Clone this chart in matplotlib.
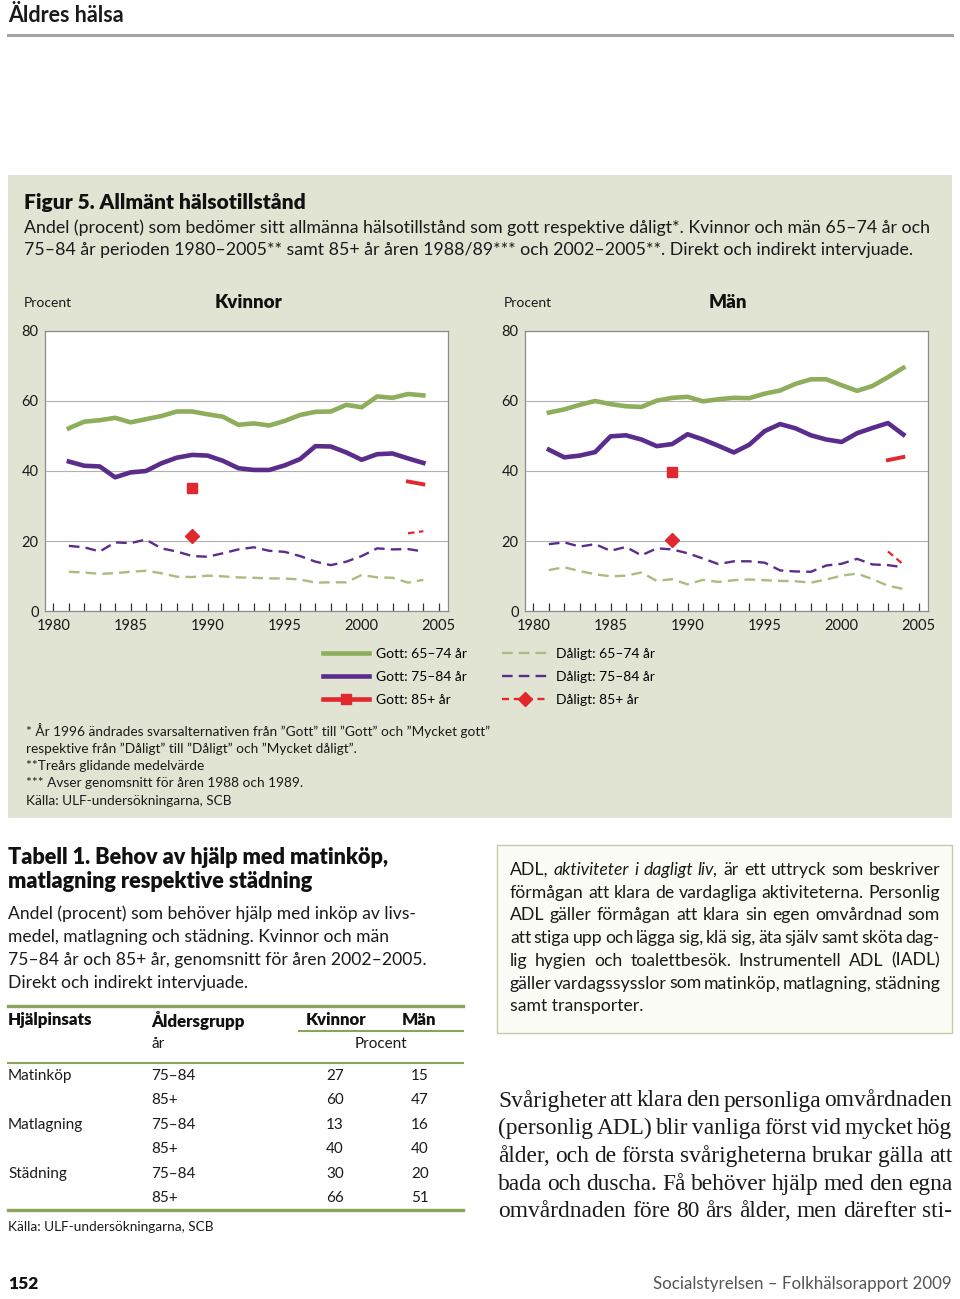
import matplotlib
matplotlib.use('Agg')
import matplotlib.pyplot as plt
from matplotlib.lines import Line2D
from matplotlib.patches import Rectangle

W, H = 960, 1299
SANS = ['Lato', 'DejaVu Sans']
SERIF = ['Liberation Serif', 'DejaVu Serif']
plt.rcParams['font.family'] = SANS

GREEN = '#8fae5c'
GREEN_L = '#a9bd7c'
PURPLE = '#5a2d8c'
RED = '#e0282e'
BOX = '#e1e4d3'
TABLE_GREEN = '#8ba35a'

# chart data (3-year moving averages)
years = list(range(1981, 2005))
years_85 = [2003, 2004]
year_8889 = 1989

kv_gott_6574 = [52.2, 54.1, 54.5, 55.2, 53.9, 54.8, 55.7, 57.0, 57.0, 56.2, 55.5, 53.2,
                53.6, 53.0, 54.3, 56.0, 56.9, 57.0, 58.9, 58.2, 61.3, 60.9, 62.0, 61.6]
kv_gott_7584 = [42.7, 41.5, 41.3, 38.2, 39.6, 40.0, 42.2, 43.8, 44.6, 44.4, 42.9, 40.8,
                40.3, 40.3, 41.6, 43.4, 47.1, 47.0, 45.3, 43.2, 44.8, 45.0, 43.6, 42.3]
kv_dal_6574 = [11.2, 11.0, 10.6, 10.8, 11.2, 11.5, 10.8, 9.8, 9.7, 10.1, 9.9, 9.6,
               9.5, 9.3, 9.3, 9.0, 8.1, 8.2, 8.2, 10.3, 9.6, 9.5, 8.1, 8.9]
kv_dal_7584 = [18.6, 18.2, 17.0, 19.6, 19.4, 20.4, 17.9, 17.0, 15.7, 15.5, 16.5, 17.6,
               18.2, 17.2, 16.9, 15.7, 14.1, 13.1, 14.1, 15.7, 17.9, 17.6, 17.7, 17.0]
kv_gott_85_8889 = 35.1
kv_gott_85 = [37.0, 36.2]
kv_dal_85_8889 = 21.3
kv_dal_85 = [22.2, 22.8]

man_gott_6574 = [56.7, 57.6, 58.9, 60.0, 59.1, 58.5, 58.3, 60.1, 60.9, 61.2, 59.9, 60.5,
                 60.9, 60.8, 62.1, 63.0, 64.9, 66.2, 66.2, 64.5, 62.9, 64.3, 66.8, 69.5]
man_gott_7584 = [46.1, 43.9, 44.4, 45.4, 49.9, 50.2, 49.0, 47.1, 47.7, 50.5, 49.0, 47.2,
                 45.3, 47.5, 51.4, 53.4, 52.2, 50.2, 49.0, 48.3, 50.8, 52.3, 53.7, 50.4]
man_dal_6574 = [11.7, 12.5, 11.4, 10.5, 9.9, 10.1, 11.0, 8.6, 9.1, 7.6, 8.9, 8.3,
                8.8, 9.0, 8.8, 8.6, 8.5, 8.1, 9.0, 10.1, 10.7, 9.1, 7.2, 6.3]
man_dal_7584 = [19.1, 19.6, 18.4, 19.1, 17.2, 18.3, 15.9, 17.9, 17.6, 16.5, 15.0, 13.4,
                14.2, 14.2, 13.8, 11.6, 11.3, 11.2, 13.0, 13.5, 14.9, 13.3, 13.1, 12.5]
man_gott_85_8889 = 39.7
man_gott_85 = [43.1, 44.0]
man_dal_85_8889 = 20.3
man_dal_85 = [17.0, 13.3]

legend_labels = ['Gott: 65–74 år', 'Gott: 75–84 år', 'Gott: 85+ år',
                 'Dåligt: 65–74 år', 'Dåligt: 75–84 år', 'Dåligt: 85+ år']

# table data
tab_help = ['Matinköp', '', 'Matlagning', '', 'Städning', '']
tab_age = ['75–84', '85+', '75–84', '85+', '75–84', '85+']
tab_kvinnor = [27, 60, 13, 40, 30, 66]
tab_man = [15, 47, 16, 40, 20, 51]


def fx(x):
    return x / W


def fy(y):
    return 1 - y / H


fig = plt.figure(figsize=(W / 100, H / 100), dpi=100)
fig.patch.set_facecolor('white')


def txt(x, y, s, size, **kw):
    kw.setdefault('va', 'center')
    return fig.text(fx(x), fy(y), s, fontsize=size, **kw)


def hline(x0, x1, y, color, lw):
    fig.add_artist(Line2D([fx(x0), fx(x1)], [fy(y), fy(y)], color=color, lw=lw,
                          transform=fig.transFigure))


renderer = fig.canvas.get_renderer()


def justify(words, x0, x1, y, size, family, color='#1a1a1a'):
    objs = []
    for w in words:
        style = 'normal'
        if w.startswith('_'):
            w = w[1:]
            style = 'italic'
        objs.append(fig.text(0, fy(y), w, fontsize=size, family=family, style=style,
                             va='center', color=color))
    widths = [t.get_window_extent(renderer).width for t in objs]
    gap = (x1 - x0 - sum(widths)) / (len(objs) - 1)
    x = x0
    for t, w in zip(objs, widths):
        t.set_x(fx(x))
        x += w + gap


# header
txt(8, 15, 'Äldres hälsa', 15.5, weight='bold', color='#1a1a1a')
hline(8, 952, 35, '#a3a3a3', 2.2)

# figure box
fig.add_artist(Rectangle((fx(8), fy(818)), fx(944), 643 / H, transform=fig.transFigure,
                         facecolor=BOX, edgecolor='none', zorder=0))
txt(24, 202, 'Figur 5. Allmänt hälsotillstånd', 15, weight='heavy', color='#111111')
txt(24, 228, 'Andel (procent) som bedömer sitt allmänna hälsotillstånd som gott respektive '
    'dåligt*. Kvinnor och män 65–74 år och', 12.8, color='#1a1a1a')
txt(24, 250, '75–84 år perioden 1980–2005** samt 85+ år åren 1988/89*** och 2002–2005**. '
    'Direkt och indirekt intervjuade.', 12.8, color='#1a1a1a')


def panel(left, title, title_x, g6574, g7584, g85pt, g85, d6574, d7584, d85pt, d85):
    ax = fig.add_axes([fx(left), fy(611), 403 / W, 280 / H])
    ax.set_facecolor('white')
    ax.plot(years, d6574, color=GREEN_L, lw=1.7, dashes=(4.5, 2.6))
    ax.plot(years, d7584, color=PURPLE, lw=1.7, dashes=(4.5, 2.6))
    ax.plot(years, g6574, color=GREEN, lw=3.3, solid_joinstyle='round')
    ax.plot(years, g7584, color=PURPLE, lw=3.3, solid_joinstyle='round')
    ax.plot([year_8889], [g85pt], marker='s', ms=6.5, color=RED, ls='none')
    ax.plot(years_85, g85, color=RED, lw=2.8)
    ax.plot([year_8889], [d85pt], marker='D', ms=7, color=RED, ls='none')
    ax.plot(years_85, d85, color=RED, lw=1.6, dashes=(3, 2))
    ax.set_xlim(1979.45, 2005.6)
    ax.set_ylim(0, 80)
    ax.set_yticks([0, 20, 40, 60, 80])
    ax.set_xticks(range(1980, 2006, 5))
    ax.set_xticks(range(1980, 2006), minor=True)
    ax.grid(axis='y', color='#b0b0b0', lw=0.8)
    ax.set_axisbelow(True)
    ax.tick_params(axis='y', length=0, pad=4.5, labelsize=10.5, labelcolor='#1a1a1a')
    ax.tick_params(axis='x', which='both', direction='in', length=5.5, width=0.9,
                   color='#333333', pad=6, labelsize=10.5, labelcolor='#1a1a1a')
    for s in ax.spines.values():
        s.set_color('#8c8c8c')
        s.set_linewidth(0.9)
    txt(left - 21, 303, 'Procent', 10, color='#1a1a1a')
    txt(title_x, 302, title, 13.5, weight='heavy', ha='center', color='#111111')
    return ax


panel(45, 'Kvinnor', 248, kv_gott_6574, kv_gott_7584, kv_gott_85_8889, kv_gott_85,
      kv_dal_6574, kv_dal_7584, kv_dal_85_8889, kv_dal_85)
panel(525, 'Män', 728, man_gott_6574, man_gott_7584, man_gott_85_8889, man_gott_85,
      man_dal_6574, man_dal_7584, man_dal_85_8889, man_dal_85)

handles = [
    Line2D([], [], color=GREEN, lw=3.3),
    Line2D([], [], color=PURPLE, lw=3.3),
    Line2D([], [], color=RED, lw=3.3, marker='s', ms=7),
    Line2D([], [], color=GREEN_L, lw=1.7, dashes=(4.5, 2.6)),
    Line2D([], [], color=PURPLE, lw=1.7, dashes=(4.5, 2.6)),
    Line2D([], [], color=RED, lw=1.7, dashes=(3, 2), marker='D', ms=7),
]
fig.legend(handles, legend_labels, ncol=2, loc='upper left',
           bbox_to_anchor=(fx(323), fy(648)), frameon=False, fontsize=10,
           handlelength=3.3, handletextpad=0.55, columnspacing=2.5,
           labelspacing=0.78, borderpad=0, borderaxespad=0)

notes = ['* År 1996 ändrades svarsalternativen från ”Gott” till ”Gott” och ”Mycket gott”',
         'respektive från ”Dåligt” till ”Dåligt” och ”Mycket dåligt”.',
         '**Treårs glidande medelvärde',
         '*** Avser genomsnitt för åren 1988 och 1989.',
         'Källa: ULF-undersökningarna, SCB']
for i, n in enumerate(notes):
    txt(26, 731 + i * 17.4, n, 9.8, color='#1a1a1a')

# table
txt(8, 858, 'Tabell 1. Behov av hjälp med matinköp,', 15.6, weight='heavy', color='#111111')
txt(8, 881, 'matlagning respektive städning', 15.6, weight='heavy', color='#111111')
desc = ['Andel (procent) som behöver hjälp med inköp av livs-',
        'medel, matlagning och städning. Kvinnor och män',
        '75–84 år och 85+ år, genomsnitt för åren 2002–2005.',
        'Direkt och indirekt intervjuade.']
for i, d in enumerate(desc):
    txt(8, 914 + i * 23, d, 12.6, color='#1a1a1a')

hline(8, 463, 1006, TABLE_GREEN, 2.4)
txt(8, 1020, 'Hjälpinsats', 12.2, weight='heavy', color='#111111')
txt(151, 1020, 'Åldersgrupp', 12.2, weight='heavy', color='#111111')
txt(306, 1020, 'Kvinnor', 12.2, weight='heavy', color='#111111')
txt(402, 1020, 'Män', 12.2, weight='heavy', color='#111111')
hline(299, 463, 1031, TABLE_GREEN, 1.5)
txt(151, 1044, 'år', 11, color='#1a1a1a')
txt(381, 1044, 'Procent', 11, ha='center', color='#1a1a1a')
hline(8, 463, 1063, TABLE_GREEN, 1.5)
for i in range(len(tab_age)):
    y = 1076 + i * 24.4
    txt(8, y, tab_help[i], 11, color='#1a1a1a')
    txt(151, y, tab_age[i], 11, color='#1a1a1a')
    txt(335, y, str(tab_kvinnor[i]), 11, ha='center', color='#1a1a1a')
    txt(420, y, str(tab_man[i]), 11, ha='center', color='#1a1a1a')
hline(8, 463, 1210, TABLE_GREEN, 2.4)
txt(8, 1227, 'Källa: ULF-undersökningarna, SCB', 9.8, color='#1a1a1a')

# ADL box
fig.add_artist(Rectangle((fx(497), fy(1033)), 455 / W, 188 / H, transform=fig.transFigure,
                         facecolor='#fcfcf6', edgecolor='#c6c8a6', lw=1.0, zorder=0))
adl = ['ADL, _aktiviteter _i _dagligt _liv, är ett uttryck som beskriver',
       'förmågan att klara de vardagliga aktiviteterna. Personlig',
       'ADL gäller förmågan att klara sin egen omvårdnad som',
       'att stiga upp och lägga sig, klä sig, äta själv samt sköta dag-',
       'lig hygien och toalettbesök. Instrumentell ADL (IADL)',
       'gäller vardagssysslor som matinköp, matlagning, städning']
for i, line in enumerate(adl):
    justify(line.split(' '), 510, 940, 870 + i * 22.7, 12.7, SANS)
txt(510, 870 + 6 * 22.7, 'samt transporter.', 12.7, color='#1a1a1a')

body = ['Svårigheter att klara den personliga omvårdnaden',
        '(personlig ADL) blir vanliga först vid mycket hög',
        'ålder, och de första svårigheterna brukar gälla att',
        'bada och duscha. Få behöver hjälp med den egna',
        'omvårdnaden före 80 års ålder, men därefter sti-']
for i, line in enumerate(body):
    justify(line.split(' '), 498, 952, 1101 + i * 27.7, 16.8, SERIF)

# footer
txt(8, 1284, '152', 12.5, weight='heavy', color='#111111')
txt(952, 1284, 'Socialstyrelsen – Folkhälsorapport 2009', 12.2, ha='right', color='#555555')

fig.savefig('out.png', dpi=100)
